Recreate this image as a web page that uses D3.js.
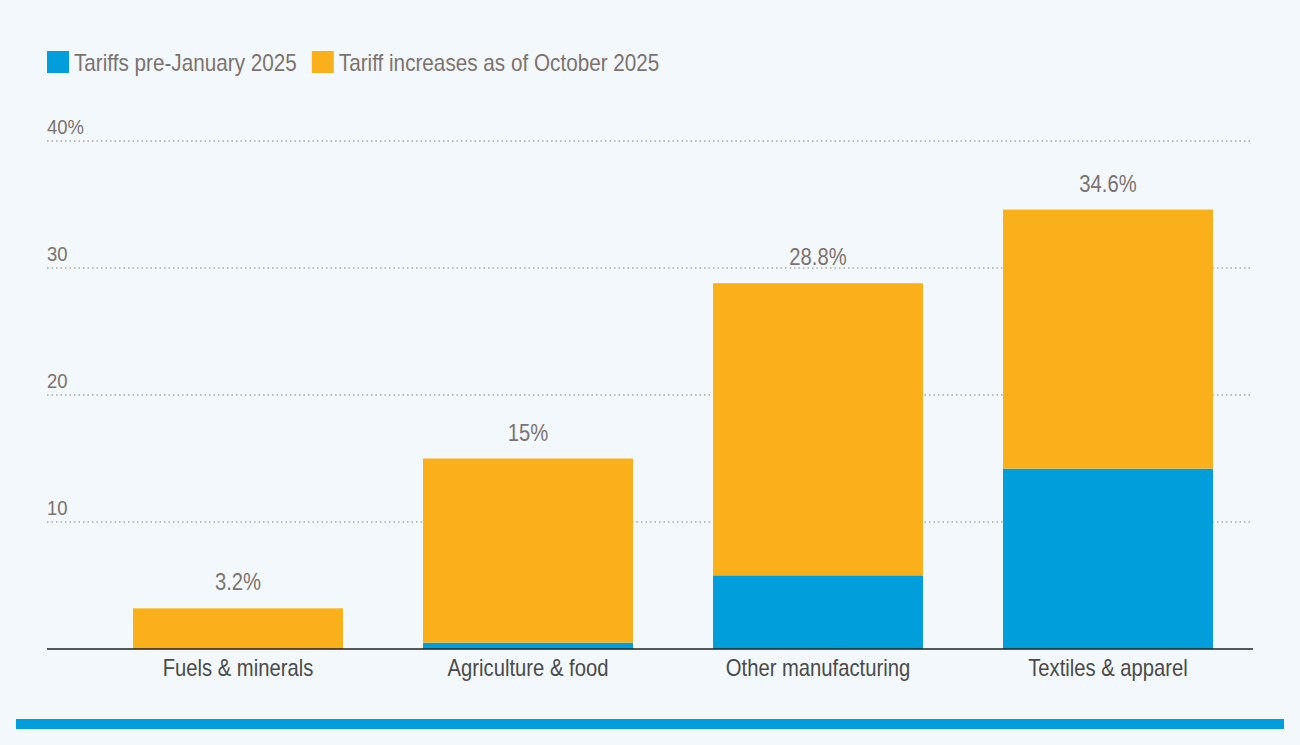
<!DOCTYPE html>
<html>
<head>
<meta charset="utf-8">
<script src="https://cdn.jsdelivr.net/npm/d3@7"></script>
<style>
  body { margin: 0; background: #f3f8fc; }
  svg { display: block; }
  text { font-family: "Liberation Sans", Arial, sans-serif; }
</style>
</head>
<body>
<svg id="chart"></svg>
<script>
// data
var categories = ['Fuels & minerals', 'Agriculture & food', 'Other manufacturing', 'Textiles & apparel'];
var pre2025 = [0, 0.5, 5.8, 14.2];
var increases = [3.2, 14.5, 23.0, 20.4];
var totalLabels = ['3.2%', '15%', '28.8%', '34.6%'];
var seriesNames = ['Tariffs pre-January 2025', 'Tariff increases as of October 2025'];
var yTicks = [10, 20, 30, 40];

var width = 1300, height = 745;
var colors = ['#009fdb', '#f9b01a'];
var squeeze = 0.88; // fake a condensed face

var svg = d3.select('#chart').attr('width', width).attr('height', height);
svg.append('rect').attr('width', width).attr('height', height).attr('fill', '#f3f8fc');

var y = d3.scaleLinear().domain([0, 40]).range([649, 141]);
var x = d3.scaleBand().domain(categories).range([93, 1253]).paddingInner(0.276).paddingOuter(0.138);

function at(px, py, s) {
  return 'translate(' + px + ',' + py + ') scale(' + (s || squeeze) + ',1)';
}

// gridlines + tick labels
var grid = svg.append('g');
grid.selectAll('line')
  .data(yTicks)
  .enter().append('line')
  .attr('x1', 47).attr('x2', 1253)
  .attr('y1', d => y(d)).attr('y2', d => y(d))
  .attr('stroke', '#a9a9a9')
  .attr('stroke-width', 1.3)
  .attr('stroke-dasharray', '1.5,3');
grid.selectAll('text')
  .data(yTicks)
  .enter().append('text')
  .attr('transform', d => at(47, y(d) - 7))
  .attr('font-size', 21)
  .attr('fill', '#7b736e')
  .text(d => d === 40 ? d + '%' : d);

// stacked bars
var rows = categories.map((c, i) => ({ cat: c, pre: pre2025[i], inc: increases[i], label: totalLabels[i] }));
var stack = d3.stack().keys(['pre', 'inc'])(rows);

svg.append('g').selectAll('g')
  .data(stack)
  .enter().append('g')
  .attr('fill', (d, i) => colors[i])
  .selectAll('rect')
  .data(d => d)
  .enter().append('rect')
  .attr('x', d => x(d.data.cat))
  .attr('width', x.bandwidth())
  .attr('y', d => y(d[1]))
  .attr('height', d => y(d[0]) - y(d[1]));

// total labels
svg.append('g').selectAll('text')
  .data(rows)
  .enter().append('text')
  .attr('transform', d => at(x(d.cat) + x.bandwidth() / 2, y(d.pre + d.inc) - 18))
  .attr('text-anchor', 'middle')
  .attr('font-size', 23)
  .attr('fill', '#7b736e')
  .text(d => d.label);

// baseline
svg.append('line')
  .attr('x1', 47).attr('x2', 1253)
  .attr('y1', y(0)).attr('y2', y(0))
  .attr('stroke', '#222').attr('stroke-width', 1.5);

// category labels
var xAxis = d3.axisBottom(x).tickSize(0).tickPadding(11);
var ax = svg.append('g').attr('transform', 'translate(0,' + y(0) + ')').call(xAxis);
ax.select('.domain').remove();
ax.selectAll('text')
  .attr('font-family', '"Liberation Sans", Arial, sans-serif')
  .attr('font-size', 23)
  .attr('fill', '#4a4a4a')
  .attr('transform', 'scale(' + squeeze + ',1)');

// legend
var legend = svg.append('g');
var lx = 47, legendSqueeze = 0.9;
seriesNames.forEach(function(name, i) {
  legend.append('rect')
    .attr('x', lx).attr('y', 51)
    .attr('width', 22).attr('height', 22)
    .attr('fill', colors[i]);
  var t = legend.append('text')
    .attr('transform', at(lx + 27, 71, legendSqueeze))
    .attr('font-size', 23)
    .attr('fill', '#7b736e')
    .text(name);
  lx += 27 + t.node().getComputedTextLength() * legendSqueeze + 15;
});

// bottom rule
svg.append('rect')
  .attr('x', 16).attr('y', 719)
  .attr('width', 1268).attr('height', 10)
  .attr('fill', colors[0]);
</script>
</body>
</html>
